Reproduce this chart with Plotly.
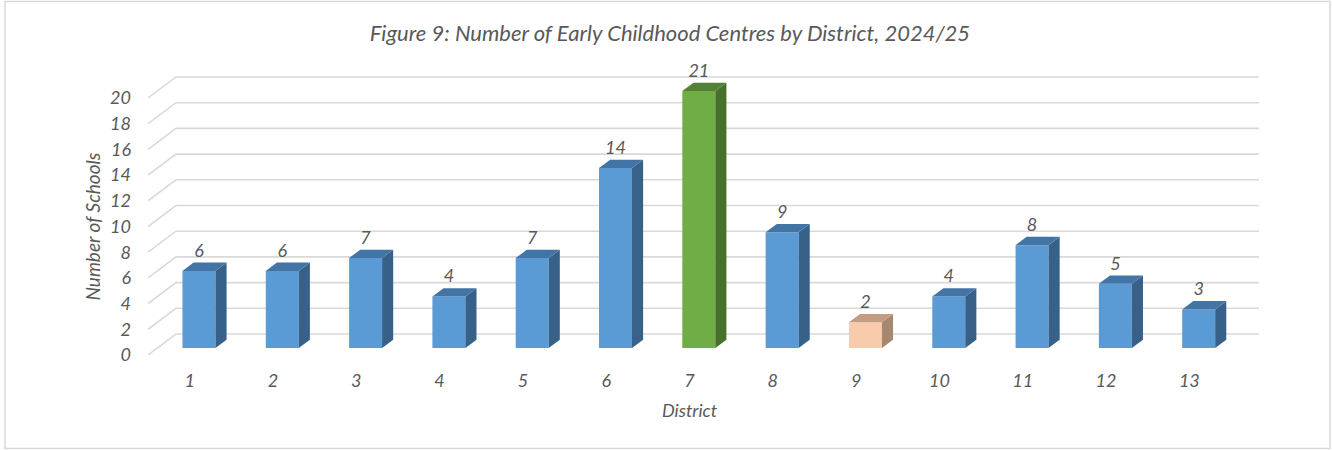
import plotly.graph_objects as go

# ---- data ----
districts = [1, 2, 3, 4, 5, 6, 7, 8, 9, 10, 11, 12, 13]
centres = [6, 6, 7, 4, 7, 14, 21, 9, 2, 4, 8, 5, 3]
tick_values = [0, 2, 4, 6, 8, 10, 12, 14, 16, 18, 20]
AXIS_MAX = 20  # value axis maximum (taller bars are cut at it)

title_text = "Figure 9: Number of Early Childhood Centres by District, 2024/25"
x_title = "District"
y_title = "Number of Schools"

# ---- styles ----
FRONT = {"blue": "#5B9BD5", "green": "#70AD47", "peach": "#F8CBAD"}
TOP = {"blue": "#4374A6", "green": "#548235", "peach": "#C39C82"}
SIDE = {"blue": "#38618A", "green": "#46702C", "peach": "#A6876F"}
bar_colour = ["blue"] * 13
bar_colour[6] = "green"
bar_colour[8] = "peach"

TEXT = "#595959"
GRID = "#D9D9D9"
FONT = "Lato"

# oblique 3-D geometry in data units
DEPTH_DX = 0.336  # x shift from front to back of floor
DEPTH_DY = 1.634  # y shift from front to back of floor
BAR_D0, BAR_D1 = 0.333, 0.73  # bar front / back depth fractions
BAR_W = 0.396

# plot-area geometry (pixels)
W, H = 1332, 450
PLOT_L, PLOT_R, PLOT_B = 148, 1259, 355
PX_PER_Y = 12.85
Y_TOP = 23.5
PLOT_T = PLOT_B - Y_TOP * PX_PER_Y
x_left, x_right = 0.5, 13.5


def paper_x(px):
    return (px - PLOT_L) / (PLOT_R - PLOT_L)


def paper_y(py):
    return (PLOT_B - py) / (PLOT_B - PLOT_T)


fig = go.Figure()

# back-wall gridlines as shapes below traces
for v in tick_values:
    path = (f"M {x_left},{v} L {x_left + DEPTH_DX},{v + DEPTH_DY} "
            f"L {x_right + DEPTH_DX},{v + DEPTH_DY}")
    fig.add_shape(type="path", path=path, xref="x", yref="y",
                  line=dict(color=GRID, width=1.6), layer="below")

f_dx, f_dy = BAR_D0 * DEPTH_DX, BAR_D0 * DEPTH_DY
b_dx, b_dy = (BAR_D1 - BAR_D0) * DEPTH_DX, (BAR_D1 - BAR_D0) * DEPTH_DY
heights = [min(v, AXIS_MAX) for v in centres]

# front faces
fig.add_trace(go.Bar(
    x=districts, y=heights, base=f_dy, width=BAR_W,
    offset=-BAR_W / 2 + f_dx,
    marker=dict(color=[FRONT[c] for c in bar_colour], line=dict(width=0)),
    hoverinfo="skip", showlegend=False,
))

# side and top faces
for d, h, c in zip(districts, heights, bar_colour):
    xl = d - BAR_W / 2 + f_dx
    xr = d + BAR_W / 2 + f_dx
    yb = f_dy
    yt = f_dy + h
    fig.add_trace(go.Scatter(
        x=[xr, xr + b_dx, xr + b_dx, xr, xr],
        y=[yb, yb + b_dy, yt + b_dy, yt, yb],
        fill="toself", fillcolor=SIDE[c], mode="lines",
        line=dict(width=0, color=SIDE[c]), hoverinfo="skip",
        showlegend=False))
    fig.add_trace(go.Scatter(
        x=[xl, xr, xr + b_dx, xl + b_dx, xl],
        y=[yt, yt, yt + b_dy, yt + b_dy, yt],
        fill="toself", fillcolor=TOP[c], mode="lines",
        line=dict(width=0, color=TOP[c]), hoverinfo="skip",
        showlegend=False))

# data labels
fig.add_trace(go.Scatter(
    x=[d + f_dx for d in districts],
    y=[f_dy + h + 1.45 for h in heights],
    text=[str(v) for v in centres], mode="text",
    textposition="middle center",
    textfont=dict(family=FONT, size=18, color=TEXT, style="italic"),
    cliponaxis=False, hoverinfo="skip", showlegend=False))

tick_font = dict(family=FONT, size=18, color=TEXT, style="italic")
fig.update_layout(
    width=W, height=H, autosize=False,
    margin=dict(l=PLOT_L, r=W - PLOT_R, t=PLOT_T, b=H - PLOT_B,
                autoexpand=False),
    paper_bgcolor="white", plot_bgcolor="rgba(0,0,0,0)",
    title=dict(text=title_text, x=670 / W, xref="container",
               y=1 - 33 / H, yref="container", yanchor="middle",
               xanchor="center",
               font=dict(family=FONT, size=22, color=TEXT, style="italic")),
    showlegend=False,
    xaxis=dict(range=[x_left, x_right + DEPTH_DX], tickvals=districts,
               ticktext=[str(d) for d in districts],
               showgrid=False, zeroline=False, showline=False,
               ticks="", ticklabelstandoff=13, tickfont=tick_font),
    yaxis=dict(range=[0, Y_TOP], tickvals=tick_values,
               showgrid=False, zeroline=False, showline=False,
               ticks="", ticklabelstandoff=16, tickfont=tick_font),
)

# axis titles
fig.add_annotation(text=x_title, x=(x_left + x_right) / 2, xref="x",
                   y=paper_y(410), yref="paper", showarrow=False,
                   xanchor="center", yanchor="middle",
                   font=dict(family=FONT, size=18, color=TEXT, style="italic"))
fig.add_annotation(text=y_title, x=paper_x(92), xref="paper",
                   y=10, yref="y", textangle=-90, showarrow=False,
                   xanchor="center", yanchor="middle",
                   font=dict(family=FONT, size=19, color=TEXT, style="italic"))

# chart border
fig.add_shape(type="rect", xref="paper", yref="paper",
              x0=paper_x(5), x1=paper_x(1330),
              y0=paper_y(448.5), y1=paper_y(1.5),
              line=dict(color=GRID, width=1.5), layer="below")

fig.write_html("out.html",
               config={"displayModeBar": False},
               post_script="document.body.style.margin='0';"
                           "document.body.style.overflow='hidden';")
